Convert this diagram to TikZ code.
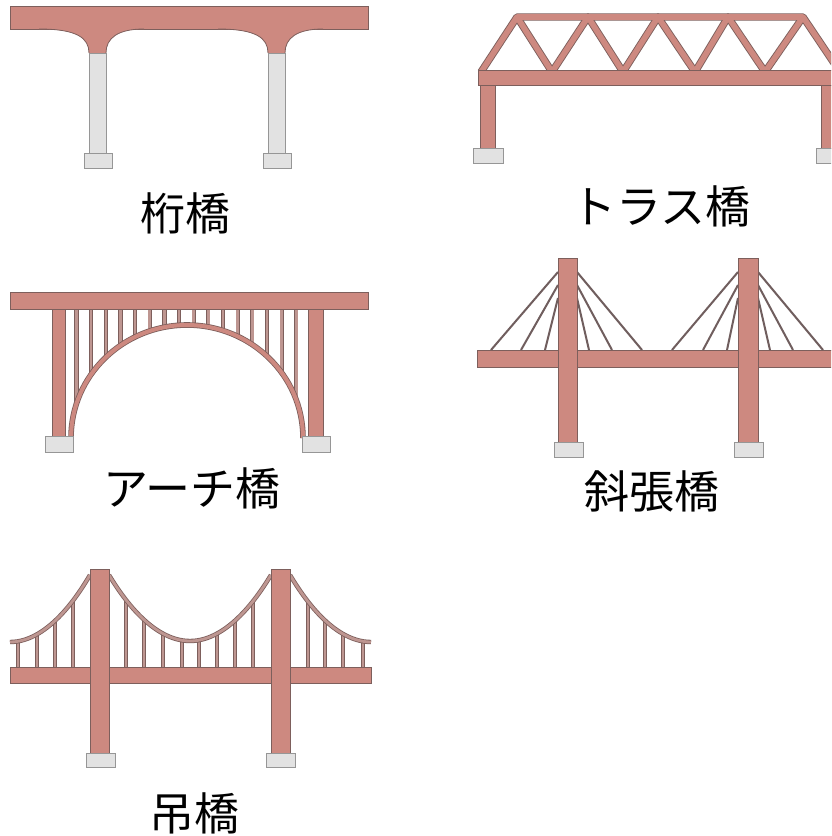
\documentclass[tikz,border=0pt]{standalone}
\usepackage{fontspec}
\newfontfamily\jpfont{Noto Sans CJK JP}

\definecolor{steel}{RGB}{205,137,128}
\definecolor{edge}{RGB}{125,95,92}
\definecolor{concrete}{RGB}{226,226,226}
\definecolor{concedge}{RGB}{150,150,150}
\definecolor{wire}{RGB}{112,94,94}
\definecolor{rod}{RGB}{190,150,145}

\tikzset{
	member/.style={fill=steel, draw=edge, line width=0.8pt},
	footing/.style={fill=concrete, draw=concedge, line width=0.8pt},
	pier/.style={fill=concrete, draw=concedge, line width=0.8pt},
	stay/.style={draw=wire, line width=2pt},
	tube/.style={draw=edge, line width=0.8pt, double=rod, double distance=#1},
	bridgename/.style={font=\jpfont\fontsize{45}{50}\selectfont, inner sep=0pt},
}

\begin{document}
\begin{tikzpicture}[x=1pt, y=-1pt]
		\fill[white] (0,0) rectangle (831,836);
		\useasboundingbox (0,0) rectangle (831,836);
		\clip (0,0) rectangle (831,836);
		
		% --- GIRDER BRIDGE (top left) ---
		\draw[member] (10,6) rectangle (368,29);
		\foreach \l/\r in {89/106, 268/285} {
			\fill[steel] (\l-50,29) .. controls (\l-12,29) and (\l,38) .. (\l,53) -- (\r,53) .. controls (\r,38) and (\r+12,29) .. (\r+38,29) -- cycle;
			\draw[edge, line width=0.8pt] (\l-50,29) .. controls (\l-12,29) and (\l,38) .. (\l,53);
			\draw[edge, line width=0.8pt] (\r,53) .. controls (\r,38) and (\r+12,29) .. (\r+38,29);
			\draw[pier] (\l,53) rectangle (\r,153);
			\draw[footing] (\l-5,153) rectangle (\r+6,168);
		}
		\node[bridgename] (girder) at (185,213) {桁橋};
		
		% --- TRUSS BRIDGE (top right) ---
		% 1. Piers
		\draw[member] (480,85) rectangle (495,148);
		\draw[member] (821,85) rectangle (836,148);
		\draw[footing] (473,148) rectangle (503,163);
		\draw[footing] (816,148) rectangle (846,163);
		
		% 2. Chords and diagonals (outline first, then fill)
		\foreach \c/\w in {edge/7.4pt, steel/5.6pt} {
			\draw[color=\c, line width=\w, line join=round] (481,72) -- (517,17) -- (803,17) -- (840,72);
			\draw[color=\c, line width=\w, line join=round] (517,17) -- (552,72) -- (588,17) -- (623,72) -- (658,17) -- (695,72) -- (728,17) -- (765,72) -- (803,17);
		}
		
		% 3. Deck
		\draw[member] (478,70) rectangle (845,85);
		\node[bridgename] (truss) at (661,206) {トラス橋};
		
		% --- ARCH BRIDGE (middle left) ---
		% 1. Spandrel posts
		\foreach \i in {0,...,15} {
			\pgfmathsetmacro\px{76.5+14.65*\i}
			\pgfmathsetmacro\py{438-113*sqrt(1-((\px-187)/116)^2)}
			\draw[tube=2.6pt] (\px,309) -- (\px,\py);
		}
		
		% 2. Arch rib
		\draw[tube=4pt, double=steel] (71,438) arc[start angle=180, end angle=360, x radius=116, y radius=113];
		
		% 3. End columns, deck and footings
		\draw[member] (52,309) rectangle (65,436);
		\draw[member] (308,309) rectangle (323,436);
		\draw[member] (10,292) rectangle (368,309);
		\draw[footing] (45,436) rectangle (73,452);
		\draw[footing] (302,436) rectangle (330,452);
		\node[bridgename] (arch) at (192,488) {アーチ橋};
		
		% --- CABLE-STAYED BRIDGE (middle right) ---
		% 1. Stay cables
		\foreach \dx/\ty in {491/272, 521/285, 545/298} {
			\draw[stay] (558,\ty) -- (\dx,350);
		}
		\foreach \dx/\ty in {642/272, 612/285, 589/298} {
			\draw[stay] (577,\ty) -- (\dx,350);
		}
		\foreach \dx/\ty in {672/272, 703/285, 727/298} {
			\draw[stay] (738,\ty) -- (\dx,350);
		}
		\foreach \dx/\ty in {823/272, 793/285, 770/298} {
			\draw[stay] (758,\ty) -- (\dx,350);
		}
		
		% 2. Deck, towers and footings
		\draw[member] (477,350) rectangle (845,367);
		\draw[member] (558,258) rectangle (577,442);
		\draw[member] (738,258) rectangle (758,442);
		\draw[footing] (554,442) rectangle (583,457);
		\draw[footing] (734,442) rectangle (763,457);
		\node[bridgename] (stayed) at (652,491) {斜張橋};
		
		% --- SUSPENSION BRIDGE (bottom left) ---
		% 1. Hangers
		\foreach \x in {18, 37, 55, 73} {
			\pgfmathsetmacro\hy{642-67*((\x-10)/80)^2}
			\draw[tube=2pt] (\x,\hy) -- (\x,667);
		}
		\foreach \x in {126, 144, 163, 182, 199, 217, 235, 253} {
			\pgfmathsetmacro\hy{641-66*((\x-190)/81)^2}
			\draw[tube=2pt] (\x,\hy) -- (\x,667);
		}
		\foreach \x in {308, 325, 343, 363} {
			\pgfmathsetmacro\hy{642-67*((371-\x)/81)^2}
			\draw[tube=2pt] (\x,\hy) -- (\x,667);
		}
		
		% 2. Main cables
		\draw[tube=2.8pt] (10,642) parabola (90,575);
		\draw[tube=2.8pt] (109,575) parabola bend (190,641) (271,575);
		\draw[tube=2.8pt] (371,642) parabola (290,575);
		
		% 3. Deck, towers and footings
		\draw[member] (10,667) rectangle (371,683);
		\draw[member] (90,569) rectangle (109,753);
		\draw[member] (271,569) rectangle (290,753);
		\draw[footing] (86,753) rectangle (115,767);
		\draw[footing] (266,753) rectangle (295,767);
		\node[bridgename] (suspension) at (194,813) {吊橋};
		
	\end{tikzpicture}
\end{document}
